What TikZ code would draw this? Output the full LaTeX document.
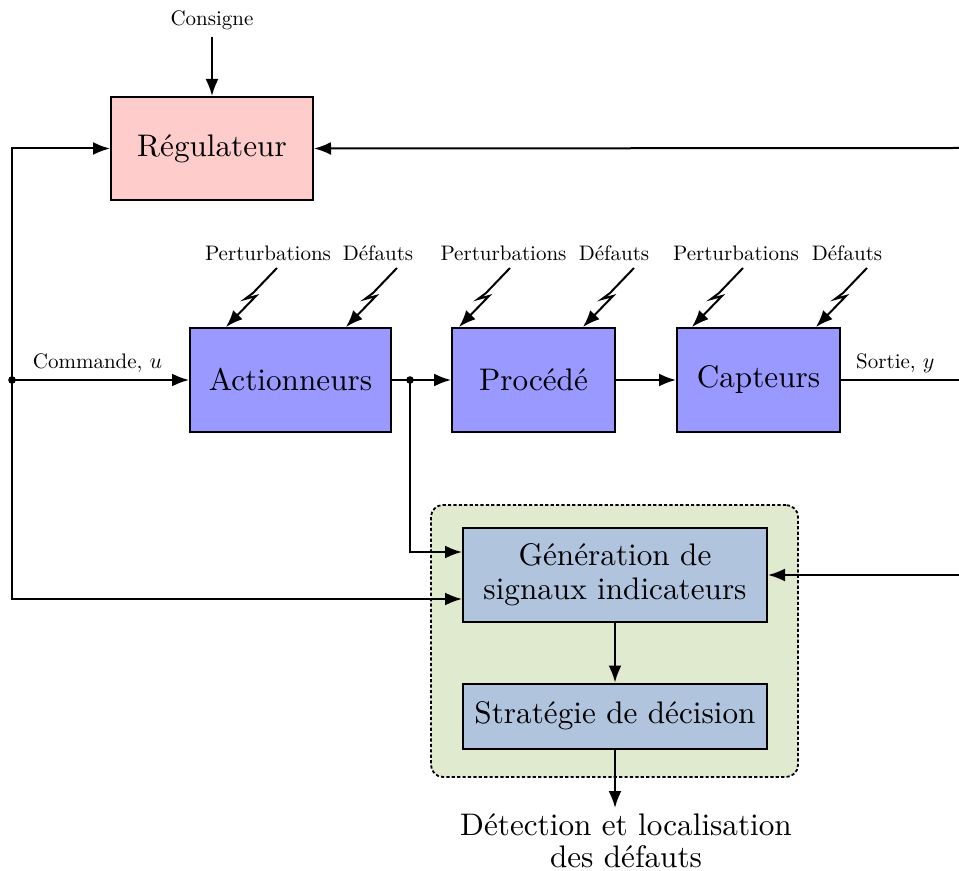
\documentclass[tikz,border=0pt]{standalone}
\usepackage{fontspec}
\setmainfont{lmroman10-regular.otf}[ItalicFont=lmroman10-italic.otf,BoldFont=lmroman10-bold.otf]
\usetikzlibrary{arrows.meta,calc}
\definecolor{pinkbox}{HTML}{FFCCCC}
\definecolor{bluebox}{HTML}{9999FF}
\definecolor{steelbox}{HTML}{B0C4DE}
\definecolor{greenbox}{HTML}{E0EACF}
\newcommand\bigtxt{\fontsize{15.6pt}{17pt}\selectfont}
\newcommand\smalltxt{\fontsize{10.5pt}{12pt}\selectfont}
\begin{document}
\begin{tikzpicture}[x=0.5pt,y=-0.5pt,line width=1pt,
  arr/.style={-{Latex[length=8.5pt,width=6.5pt]}},
  boltline/.style={line width=1pt,-{Latex[length=8.5pt,width=6.5pt]}},
  blk/.style={draw,line width=1pt,inner sep=0pt,font=\bigtxt,align=center},
  lbl/.style={font=\smalltxt},
  dotnode/.style={circle,fill=black,inner sep=0pt,minimum size=3.8pt}]
\useasboundingbox (0,0) rectangle (959,871);

% fault detection frame
\node[draw,line width=0.9pt,dash pattern=on 1.6pt off 1.1pt,rounded corners=6pt,
      fill=greenbox,minimum width=183.5pt,minimum height=136pt,inner sep=0pt]
      (fd) at (614.5,641) {};

% blocks
\node[blk,fill=pinkbox,minimum width=101pt,minimum height=51.5pt] (reg) at (212,148.5) {Régulateur};
\node[blk,fill=bluebox,minimum width=100.5pt,minimum height=52pt] (act) at (290.5,380) {Actionneurs};
\node[blk,fill=bluebox,minimum width=81.5pt,minimum height=52pt] (proc) at (533.5,380) {Procédé};
\node[blk,fill=bluebox,minimum width=81.5pt,minimum height=52pt] (cap) at (758.5,380) {Capteurs};
\node[blk,fill=steelbox,minimum width=152pt,minimum height=47pt] (gen) at (615,575) {Génération de\\signaux indicateurs};
\node[blk,fill=steelbox,minimum width=152pt,minimum height=32.5pt] (strat) at (615,716) {Stratégie de décision};

% texts
\node[lbl] (cons) at (212,20) {Consigne};
\node[font=\fontsize{15.6pt}{16pt}\selectfont,align=center,anchor=north,inner sep=2.5pt] (det) at (626,808)
  {Détection et localisation\\des défauts};

% coordinates
\coordinate (ldot) at (12,380);
\coordinate (mdot) at (410,380);
\coordinate (rreg) at (959,148);
\coordinate (rout) at (959,380);
\coordinate (rgen) at (959,575);
\coordinate (gin1) at ($(gen.west)+(0,-23)$);
\coordinate (gin2) at ($(gen.west)+(0,24)$);

% connectors
\draw[arr] (cons.south) -- (reg.north);
\draw[arr] (rreg) -- (reg.east);
\draw[arr] (ldot) |- (reg.west);
\draw[arr] (ldot) -- (act.west) node[midway,above,lbl,xshift=-1.5pt] {Commande, $u$};
\draw[arr] (ldot) |- (gin2);
\draw[arr] (act.east) -- (proc.west);
\draw[arr] (proc.east) -- (cap.west);
\draw (cap.east) -- (rout) node[pos=0.46,above,lbl] {Sortie, $y$};
\draw[arr] (mdot) |- (gin1);
\draw[arr] (rgen) -- (gen.east);
\draw[arr] (gen.south) -- (strat.north);
\draw[arr] (strat.south) -- (strat.south |- det.north);
\node[dotnode] (d1) at (ldot) {};
\node[dotnode] (d2) at (mdot) {};

% disturbances and faults
\node[lbl] (p1) at (268,253) {Perturbations};
\node[lbl] (f1) at (378,253) {Défauts};
\node[lbl] (p2) at (503.5,253) {Perturbations};
\node[lbl] (f2) at (614,253) {Défauts};
\node[lbl] (p3) at (736,253) {Perturbations};
\node[lbl] (f3) at (847,253) {Défauts};

\coordinate (t1) at ($(act.north west)+(37,0)$);
\coordinate (t2) at ($(act.north west)+(157,0)$);
\coordinate (t3) at ($(proc.north west)+(8,0)$);
\coordinate (t4) at ($(proc.north west)+(132,0)$);
\coordinate (t5) at ($(cap.north west)+(16,0)$);
\coordinate (t6) at ($(cap.north west)+(140,0)$);
\foreach \t in {t1,t2,t3,t4,t5,t6}{
  \draw[boltline] ($(\t)+(51,-59)$) -- ++(-24,25) -- ++(-8,6) -- ++(11,-3) -- (\t);
}
\end{tikzpicture}
\end{document}
